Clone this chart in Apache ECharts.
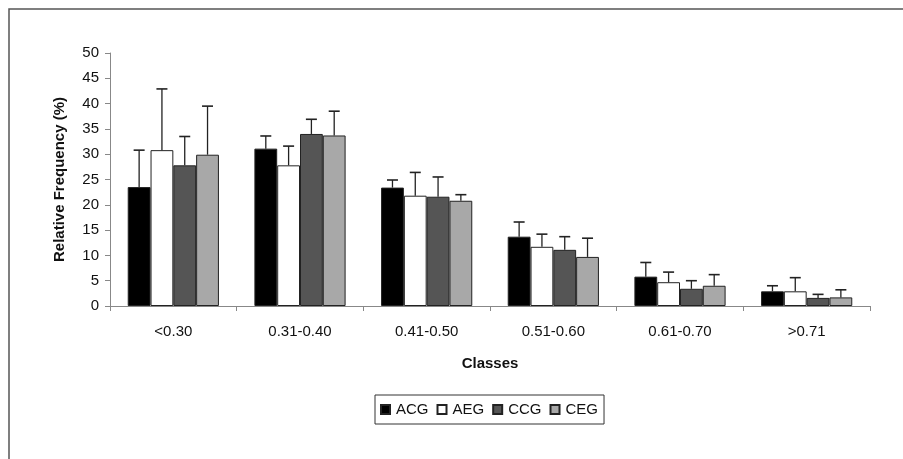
<!DOCTYPE html>
<html><head><meta charset="utf-8">
<script src="https://cdn.jsdelivr.net/npm/echarts@6/dist/echarts.min.js"></script>
<style>html,body{margin:0;padding:0;background:#fff}#c{width:903px;height:459px}</style>
</head><body><div id="c"></div>
<script>
const categories = ['<0.30','0.31-0.40','0.41-0.50','0.51-0.60','0.61-0.70','>0.71'];
const seriesNames = ['ACG','AEG','CCG','CEG'];
const acg = [23.5, 31.1, 23.4, 13.7, 5.8, 2.9];
const aeg = [30.8, 27.8, 21.8, 11.7, 4.7, 2.9];
const ccg = [27.8, 34.0, 21.6, 11.1, 3.4, 1.6];
const ceg = [29.9, 33.7, 20.8, 9.7, 4.0, 1.7];
const acgErrTop = [30.8, 33.6, 24.9, 16.6, 8.6, 4.0];
const aegErrTop = [42.9, 31.6, 26.4, 14.2, 6.7, 5.6];
const ccgErrTop = [33.5, 36.9, 25.5, 13.7, 5.0, 2.3];
const cegErrTop = [39.5, 38.5, 22.0, 13.4, 6.2, 3.2];
const yTicks = [0,5,10,15,20,25,30,35,40,45,50];

const values = [acg, aeg, ccg, ceg];
const errs = [acgErrTop, aegErrTop, ccgErrTop, cegErrTop];
const colors = ['#000000','#ffffff','#555555','#a8a8a8'];
const CAT_GAP = 0.28;

const errData = [];
values.forEach((arr, s) => arr.forEach((v, i) => errData.push([i, s, v, errs[s][i]])));

const chart = echarts.init(document.getElementById('c'), null, {renderer:'canvas'});
const font = 'Liberation Sans, Arial, sans-serif';
chart.setOption({
  animation:false,
  backgroundColor:'#fff',
  graphic:[{type:'rect', shape:{x:9,y:9,width:1000,height:1000}, style:{fill:'none', stroke:'#555', lineWidth:1.5}, silent:true}],
  grid:{left:110, right:33, top:53, bottom:153},
  legend:{
    data:seriesNames, top:395, left:375,
    itemWidth:9, itemHeight:9, itemGap:8,
    borderColor:'#333', borderWidth:1, padding:[7,6,7,5],
    textStyle:{fontFamily:font, fontSize:15, color:'#111', padding:[0,0,0,1]},
    icon:'rect'
  },
  xAxis:{
    type:'category', data:categories,
    name:'Classes', nameLocation:'middle', nameGap:50,
    nameTextStyle:{fontFamily:font, fontSize:15, fontWeight:'bold', color:'#111'},
    axisLine:{lineStyle:{color:'#888', width:1}},
    axisTick:{show:true, length:5, lineStyle:{color:'#888'}},
    axisLabel:{fontFamily:font, fontSize:15, color:'#111', margin:18}
  },
  yAxis:{
    type:'value', min:0, max:50, interval:5,
    name:'Relative Frequency (%)', nameLocation:'middle', nameGap:43, nameRotate:90,
    nameTextStyle:{fontFamily:font, fontSize:15, fontWeight:'bold', color:'#111'},
    axisLine:{show:true, lineStyle:{color:'#888', width:1}},
    axisTick:{show:true, length:5, lineStyle:{color:'#888'}},
    splitLine:{show:false},
    axisLabel:{fontFamily:font, fontSize:15, color:'#111', margin:11,
      formatter:(v)=> yTicks.includes(v) ? String(v) : ''}
  },
  series: seriesNames.map((n, s) => ({
    name:n, type:'bar', data:values[s],
    barGap:'0%', barCategoryGap:(CAT_GAP*100)+'%',
    itemStyle:{color:colors[s], borderColor:'#222', borderWidth:1},
    z:2
  })).concat([{
    type:'custom', name:'err', data:errData, z:3,
    renderItem:function(params, api){
      const cat = api.value(0), s = api.value(1), v = api.value(2), e = api.value(3);
      const band = api.size([1,0])[0];
      const bw = band*(1-CAT_GAP)/4;
      const c = api.coord([cat, v]);
      const t = api.coord([cat, e]);
      const x = c[0] + (s-1.5)*bw;
      const cap = 5.5;
      return {type:'group', children:[
        {type:'line', shape:{x1:x,y1:c[1],x2:x,y2:t[1]}, style:{stroke:'#222', lineWidth:1.3}},
        {type:'line', shape:{x1:x-cap,y1:t[1],x2:x+cap,y2:t[1]}, style:{stroke:'#222', lineWidth:1.6}}
      ]};
    }
  }])
});
</script></body></html>
